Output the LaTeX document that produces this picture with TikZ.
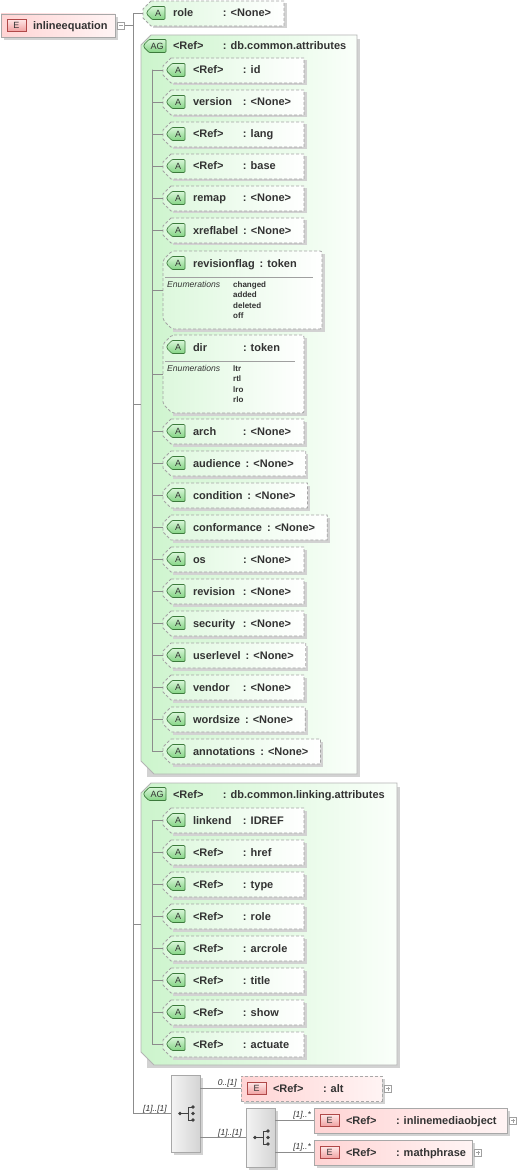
\documentclass[tikz,border=0pt]{standalone}
\usepackage{fontspec}
\setmainfont{Liberation Sans}
\usetikzlibrary{calc}
\pgfdeclarelayer{grp}
\pgfdeclarelayer{box}
\pgfsetlayers{grp,box,main}
\definecolor{txt}{HTML}{333333}
\definecolor{lineg}{HTML}{8C8C8C}
\definecolor{attrb}{HTML}{A4A4A4}
\definecolor{grpb}{HTML}{B4B4B4}
\definecolor{grpL}{HTML}{CCF4CC}
\definecolor{grpR}{HTML}{FAFFFA}
\definecolor{atL}{HTML}{DDF8DD}
\definecolor{atR}{HTML}{FFFFFF}
\definecolor{shad}{HTML}{D2D2D2}
\definecolor{bgT}{HTML}{D8F6D8}
\definecolor{bgB}{HTML}{84D484}
\definecolor{bgD}{HTML}{3C7A3C}
\definecolor{elb}{HTML}{A8A8A8}
\definecolor{elL}{HTML}{FFD4D4}
\definecolor{elR}{HTML}{FFF4F4}
\definecolor{ebT}{HTML}{FFE6E6}
\definecolor{ebB}{HTML}{F0A0A0}
\definecolor{ebD}{HTML}{B04848}
\definecolor{cmpb}{HTML}{A8A8A8}
\definecolor{cmpL}{HTML}{F4F4F4}
\definecolor{cmpR}{HTML}{D4D4D4}
\definecolor{togb}{HTML}{A0A0A0}
\definecolor{sepc}{HTML}{A0A0A0}
\definecolor{icon}{HTML}{404040}
\newbox\nmb
\newcommand\REF{\textless Ref\textgreater}
\newcommand\NONE{\textless None\textgreater}
\newcommand\lblfont{\fontsize{11}{13}\selectfont\bfseries}
\newcommand\badgefont{\fontsize{9}{10}\selectfont}
\newcommand\enumfont{\fontsize{8.6}{10}\selectfont\itshape}
\newcommand\valfont{\fontsize{8}{10}\selectfont\bfseries}
\newcommand\cardfont{\fontsize{8.5}{10}\selectfont\itshape}
\newcommand\nmbox[2]{\setbox\nmb\hbox{#1}\ifdim\dimexpr\wd\nmb+5pt\relax<#2\relax\hbox to #2{\unhcopy\nmb\hfil}\else\hbox{\unhcopy\nmb\hspace{5pt}}\fi}
% badge: #1 id, #2 x, #3 cy, #4 width, #5 text
\newcommand\abadge[5]{%
  \path[draw=bgD, line width=0.7pt, top color=bgT, bottom color=bgB, rounded corners=1pt]
    (#2+5,#3-6.5) -- (#2+#4,#3-6.5) -- (#2+#4,#3+6.5) -- (#2+5,#3+6.5) -- (#2,#3+1.5) -- (#2,#3-1.5) -- cycle;
  \node[badgetxt] (#1) at (#2+#4/2+2,#3+0.3) {#5};
}
% attribute: #1 id, #2 L, #3 cy, #4 name, #5 value
\newcommand\attr[5]{%
  \node[lbl, anchor=base west] (#1-t) at (#2+30,#3+4) {\nmbox{#4}{50pt}: #5};
  \path let \p1=(#1-t.east) in \pgfextra{\pgfmathsetmacro\myR{max(#2+141,\x1+12)}\xdef\gR{\myR}};
  \begin{pgfonlayer}{box}
  \fill[shad] (#2+10,#3-9.5) rectangle (\gR+2.5,#3+15.5);
  \path[draw=attrb, line width=0.8pt, dsh, left color=atL, right color=atR]
    (#2+8,#3-12) -- (\gR,#3-12) -- (\gR,#3+13) -- (#2+8,#3+13) -- (#2,#3+5) -- (#2,#3-4) -- cycle;
  \end{pgfonlayer}
  \abadge{#1-b}{#2+4}{#3}{18}{A}
  \coordinate (#1) at (#2,#3);
}
% enumerated attribute: #1 id, #2 L, #3 top, #4 bottom, #5 R, #6 name, #7 type, #8 values
\newcommand\enumattr[8]{%
  \begin{pgfonlayer}{box}
  \fill[shad] (#2+10,#3+2.5) rectangle (#5+2.5,#4+2.5);
  \path[draw=attrb, line width=0.8pt, dsh, left color=atL, right color=atR, rounded corners=2pt]
    (#2+9,#3) -- (#5,#3) -- (#5,#4) -- (#2+9,#4) -- (#2,#4-9) -- (#2,#3+9) -- cycle;
  \end{pgfonlayer}
  \abadge{#1-b}{#2+4}{#3+12}{18}{A}
  \node[lbl, anchor=base west] (#1-t) at (#2+30,#3+16) {\nmbox{#6}{50pt}: #7};
  \draw[draw=sepc, line width=0.6pt] (#2+2,#3+26) -- (#5-9,#3+26);
  \node[enumlbl, anchor=base west] (#1-e) at (#2+4,#3+36) {Enumerations};
  \foreach \v [count=\i from 0] in {#8} {\node[enumval, anchor=base west] (#1-v\i) at (#2+70,#3+36+10.6*\i) {\v};}
  \coordinate (#1) at (#2,{(#3+#4)/2});
}
% group: #1 id, #2 L, #3 top, #4 R, #5 bottom, #6 name
\newcommand\grp[6]{%
  \begin{pgfonlayer}{grp}
  \fill[shad] (#2+6,#3+4) rectangle (#4+3,#5+3);
  \path[draw=grpb, line width=0.8pt, left color=grpL, right color=grpR]
    (#2+10,#3) -- (#4,#3) -- (#4,#5) -- (#2+13,#5) -- (#2,#5-13) -- (#2,#3+10) -- cycle;
  \end{pgfonlayer}
  \abadge{#1-b}{#2+3}{#3+11}{22}{AG}
  \node[lbl, anchor=base west] (#1-t) at (#2+32,#3+15) {\nmbox{\REF}{50pt}: #6};
  \coordinate (#1) at (#2,{(#3+#5)/2});
}
% element: [opts] #2 id, #3 L, #4 top, #5 R, #6 bottom, #7 text
\newcommand\elem[7][]{%
  \fill[shad] (#3+3,#4+3) rectangle (#5+3,#6+3);
  \node[elembox, #1, anchor=north west, minimum width={#5-#3}, minimum height={#6-#4}] (#2) at (#3,#4) {};
  \pgfmathsetmacro\cy{(#4+#6)/2}%
  \path[draw=ebD, line width=0.7pt, top color=ebT, bottom color=ebB] (#3+6,\cy-6) rectangle (#3+25,\cy+6);
  \node[badgetxt] (#2-b) at (#3+15.5,\cy+0.3) {E};
  \node[lbl, anchor=base west] (#2-t) at (#3+32,\cy+4) {#7};
}
% toggle: #1 id, #2 x, #3 y, #4 plus?
\newcommand\tog[4]{%
  \node[togbox] (#1) at (#2,#3) {};
  \draw[draw=togb, line width=0.6pt] (#2-2,#3) -- (#2+2,#3);
  \ifnum#4=1 \draw[draw=togb, line width=0.6pt] (#2,#3-2) -- (#2,#3+2);\fi
}
% compositor: #1 id, #2 cx, #3 cy, #4 w, #5 h
\newcommand\comp[5]{%
  \fill[shad] (#2-#4/2+3,#3-#5/2+3) rectangle (#2+#4/2+3,#3+#5/2+3);
  \node[compbox, minimum width=#4, minimum height=#5] (#1) at (#2,#3) {};
  \draw[draw=icon, line width=0.8pt] (#2-5.5,#3) -- (#2+2.5,#3) (#2+2.5,#3-6.5) -- (#2+2.5,#3+6.5)
     (#2+2.5,#3-6.5) -- (#2+7.5,#3-6.5) (#2+2.5,#3+6.5) -- (#2+7.5,#3+6.5);
  \fill[icon] (#2-5.5,#3) circle[radius=1.9pt] (#2+7.5,#3-6.5) circle[radius=1.9pt]
     (#2+7.5,#3) circle[radius=1.9pt] (#2+7.5,#3+6.5) circle[radius=1.9pt];
}
\begin{document}
\begin{tikzpicture}[x=1pt,y=-1pt,
  conn/.style={draw=lineg, line width=0.8pt},
  lbl/.style={text=txt, font=\lblfont, inner sep=0pt, outer sep=0pt},
  badgetxt/.style={text=txt, font=\badgefont, inner sep=0pt},
  card/.style={text=txt, font=\cardfont, inner sep=0pt},
  enumlbl/.style={text=txt, font=\enumfont, inner sep=0pt},
  enumval/.style={text=txt, font=\valfont, inner sep=0pt},
  elembox/.style={draw=elb, line width=0.8pt, left color=elL, right color=elR, inner sep=0pt, outer sep=0pt},
  compbox/.style={draw=cmpb, line width=0.8pt, left color=cmpL, right color=cmpR, inner sep=0pt, outer sep=0pt},
  togbox/.style={draw=togb, fill=white, line width=0.6pt, minimum size=7pt, inner sep=0pt, outer sep=0pt},
  dsh/.style={dash pattern=on 3pt off 2pt}]
\useasboundingbox (0,0) rectangle (517,1174);
\begin{pgfonlayer}{grp}
\fill[white] (0,0) rectangle (517,1174);
\end{pgfonlayer}

% root
\elem{root}{1}{14}{115}{37}{inlineequation}
\tog{rootminus}{121}{25.5}{0}

% role
\attr{a0-role}{143}{13}{role}{\NONE}

% group 1
\grp{g1}{141}{35}{357}{774}{db.common.attributes}
\attr{a1-id}{163}{70}{\REF}{id}
\attr{a1-version}{163}{102}{version}{\NONE}
\attr{a1-lang}{163}{134}{\REF}{lang}
\attr{a1-base}{163}{166}{\REF}{base}
\attr{a1-remap}{163}{198}{remap}{\NONE}
\attr{a1-xreflabel}{163}{230}{xreflabel}{\NONE}
\enumattr{a1-revisionflag}{163}{251}{329}{322}{revisionflag}{token}{changed,added,deleted,off}
\enumattr{a1-dir}{163}{335}{413}{304}{dir}{token}{ltr,rtl,lro,rlo}
\attr{a1-arch}{163}{431}{arch}{\NONE}
\attr{a1-audience}{163}{463}{audience}{\NONE}
\attr{a1-condition}{163}{495}{condition}{\NONE}
\attr{a1-conformance}{163}{527}{conformance}{\NONE}
\attr{a1-os}{163}{559}{os}{\NONE}
\attr{a1-revision}{163}{591}{revision}{\NONE}
\attr{a1-security}{163}{623}{security}{\NONE}
\attr{a1-userlevel}{163}{655}{userlevel}{\NONE}
\attr{a1-vendor}{163}{687}{vendor}{\NONE}
\attr{a1-wordsize}{163}{719}{wordsize}{\NONE}
\attr{a1-annotations}{163}{751}{annotations}{\NONE}
\coordinate (g1bus) at (152,70);
\foreach \a in {id,version,lang,base,remap,xreflabel,revisionflag,dir,arch,audience,condition,conformance,os,revision,security,userlevel,vendor,wordsize,annotations}
  {\draw[conn] (g1bus) |- (a1-\a);}

% group 2
\grp{g2}{141}{783}{397}{1065}{db.common.linking.attributes}
\attr{a2-linkend}{163}{820}{linkend}{IDREF}
\attr{a2-href}{163}{852}{\REF}{href}
\attr{a2-type}{163}{884}{\REF}{type}
\attr{a2-role}{163}{916}{\REF}{role}
\attr{a2-arcrole}{163}{948}{\REF}{arcrole}
\attr{a2-title}{163}{980}{\REF}{title}
\attr{a2-show}{163}{1012}{\REF}{show}
\attr{a2-actuate}{163}{1044}{\REF}{actuate}
\coordinate (g2bus) at (152,820);
\foreach \a in {linkend,href,type,role,arcrole,title,show,actuate}
  {\draw[conn] (g2bus) |- (a2-\a);}

% content model
\comp{comp1}{185.5}{1113.5}{29}{77}
\elem[dsh]{alt}{241}{1076}{382}{1101}{\nmbox{\REF}{50pt}: alt}
\tog{altplus}{388}{1088.5}{1}
\comp{comp2}{260.5}{1137.5}{29}{59}
\elem{imo}{314}{1108}{507}{1133}{\nmbox{\REF}{50pt}: inlinemediaobject}
\tog{imoplus}{513}{1120.5}{1}
\elem{mp}{314}{1140}{472}{1165}{\nmbox{\REF}{50pt}: mathphrase}
\tog{mpplus}{478}{1152.5}{1}

% trunk connectors
\coordinate (rj) at (133,25.5);
\draw[conn] (rootminus.east) -- (rj);
\draw[conn] (rj) |- (a0-role);
\draw[conn] (rj) |- (g1);
\draw[conn] (rj) |- (g2);
\draw[conn] (rj) |- (comp1.west);
\draw[conn] (comp1.east |- alt.west) -- (alt.west);
\draw[conn] (comp1.east |- comp2.west) -- (comp2.west);
\draw[conn] (comp2.east |- imo.west) -- (imo.west);
\draw[conn] (comp2.east |- mp.west) -- (mp.west);

% cardinalities
\node[card, anchor=base east, xshift=-4pt, yshift=2.5pt] (c-comp1) at (comp1.west) {[1]..[1]};
\node[card, anchor=base east, xshift=-4pt, yshift=3pt] (c-alt) at (alt.west) {0..[1]};
\node[card, anchor=base east, xshift=-4pt, yshift=2.5pt] (c-comp2) at (comp2.west) {[1]..[1]};
\node[card, anchor=base east, xshift=-3pt, yshift=3pt] (c-imo) at (imo.west) {[1]..*};
\node[card, anchor=base east, xshift=-3pt, yshift=3pt] (c-mp) at (mp.west) {[1]..*};
\end{tikzpicture}
\end{document}
